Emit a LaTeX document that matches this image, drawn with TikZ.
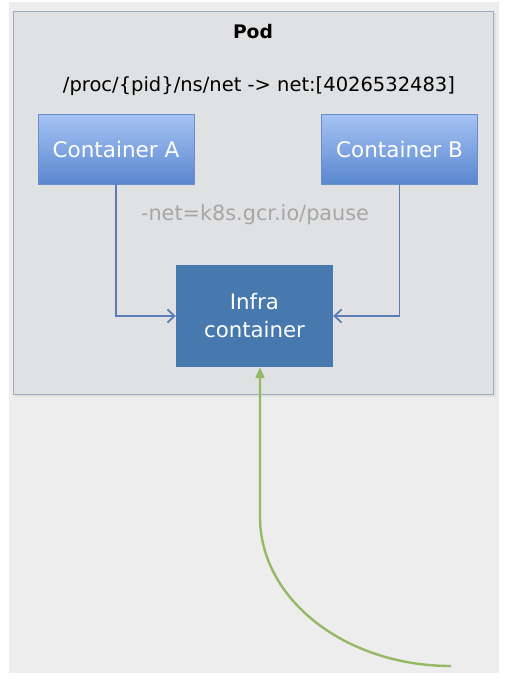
\documentclass[tikz,border=0pt]{standalone}
\usepackage{fontspec}
\setmainfont{DejaVu Sans}
\usetikzlibrary{arrows.meta}

\definecolor{pagebg}{HTML}{EDEDED}
\definecolor{podfill}{HTML}{E0E1E3}
\definecolor{podline}{HTML}{A0A9C4}
\definecolor{boxtop}{HTML}{A6C4F5}
\definecolor{boxbottom}{HTML}{5A87CF}
\definecolor{boxline}{HTML}{6A8DCB}
\definecolor{infrafill}{HTML}{4779AE}
\definecolor{linkblue}{HTML}{5B7DB8}
\definecolor{vinegreen}{HTML}{94BA66}
\definecolor{hintgray}{HTML}{A6A6A6}

\tikzset{
  x=1pt, y=-1pt,
  podbox/.style={draw=podline, line width=0.8pt, fill=podfill,
    minimum width=480pt, minimum height=383pt, inner sep=0pt},
  ctrbox/.style={draw=boxline, line width=0.4pt, top color=boxtop, bottom color=boxbottom,
    minimum width=156pt, minimum height=70pt, inner sep=0pt, text=white,
    font=\fontsize{21.5}{26}\selectfont},
  infrabox/.style={fill=infrafill, minimum width=157pt, minimum height=102pt,
    inner sep=0pt, text=white, align=center,
    font=\fontsize{21.3}{28}\selectfont},
  link/.style={draw=linkblue, line width=1.8pt,
    -{Straight Barb[length=7pt,width=13pt,line width=1.8pt]}},
  vine/.style={draw=vinegreen, line width=2.4pt, -{Triangle[length=11pt,width=9pt]}},
}

\begin{document}
\begin{tikzpicture}
  \useasboundingbox (0,0) rectangle (510,688);
  \fill[pagebg] (9,2) rectangle (499,673);

  % pod frame with a soft drop shadow
  \fill[black!12] (15,13) rectangle (496,397);
  \node[podbox] (pod) at (253,202.5) {};
  \node[font=\bfseries\fontsize{18.7}{22}\selectfont] (podtitle) at (253,32) {Pod};
  \node[font=\fontsize{19.5}{24}\selectfont] (nspath) at (259,86)
    {/proc/\{pid\}/ns/net -> net:[4026532483]};

  % containers
  \node[ctrbox] (ca) at (116,149) {Container A};
  \node[ctrbox] (cb) at (399.5,149) {Container B};
  \node[text=hintgray, font=\fontsize{20.8}{24}\selectfont] (netflag) at (255,215)
    {-net=k8s.gcr.io/pause};

  \node[infrabox] (infra) at (254.5,316) {Infra\\container};

  \draw[link] (ca.south) |- (infra.west);
  \draw[link] (cb.south) |- (infra.east);

  % network link entering the infra container from below
  \coordinate (vstart) at (451,666);
  \coordinate (vbend) at (260,517);
  \draw[vine] (vstart) .. controls (345,666) and (260,599) .. (vbend)
    -- (vbend |- infra.south);
\end{tikzpicture}
\end{document}
